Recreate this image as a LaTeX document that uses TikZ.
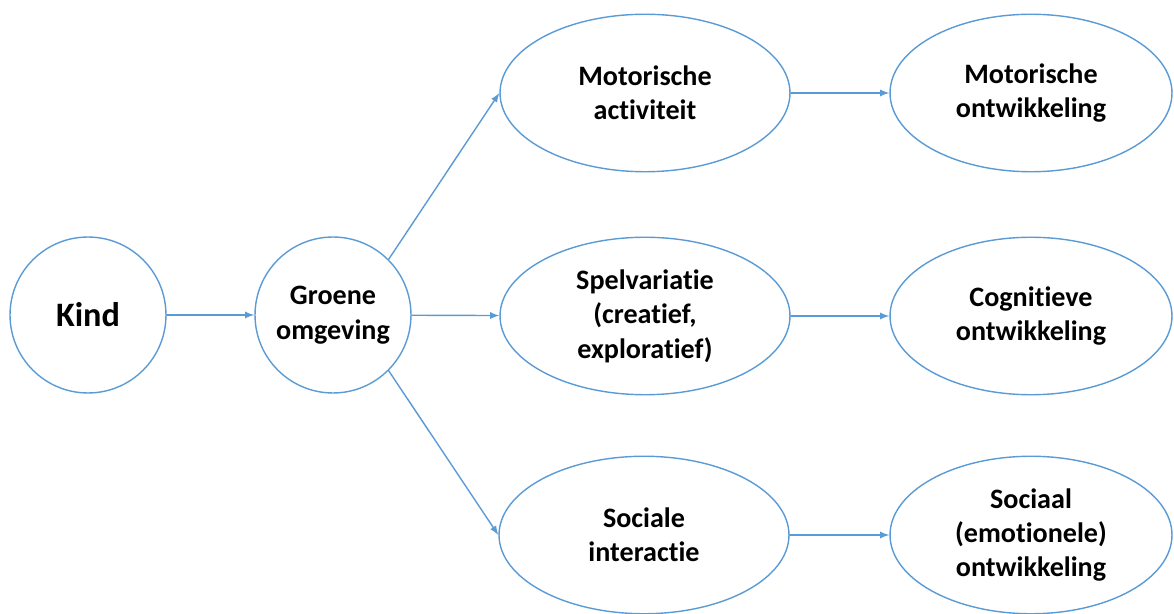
\documentclass[tikz,border=0pt]{standalone}
\usepackage{fontspec}
\setmainfont[Ligatures=NoCommon]{Carlito}
\usepackage{tikz}
\usetikzlibrary{arrows}
\usetikzlibrary{shapes.geometric}
\definecolor{lijnblauw}{RGB}{91,155,213}

\tikzset{
  rondje/.style={circle, draw=lijnblauw, line width=0.8pt, minimum size=3.12cm, inner sep=0pt, align=center,
    font=\fontsize{16}{19.6}\selectfont\bfseries},
  ovaal/.style={ellipse, draw=lijnblauw, line width=0.8pt, minimum width=5.8cm, minimum height=3.15cm, inner sep=0pt, align=center,
    font=\fontsize{16}{19.6}\selectfont\bfseries},
  pijl/.style={->, draw=lijnblauw, line width=0.8pt}
}

\begin{document}
\begin{tikzpicture}[x=0.02cm, y=-0.02cm, line cap=round, line join=round, >=latex]
  \useasboundingbox (0, 0) rectangle (1174, 614);
  %--- Kind en omgeving
    \node[rondje, font=\fontsize{19.5}{23}\selectfont\bfseries] (kind) at (88, 315) {Kind};
    \node[rondje] (groen) at (333, 315) {Groene\\omgeving};
  %--- Middelste kolom
    \node[ovaal] (motact) at (645, 93) {Motorische\\activiteit};
    \node[ovaal] (spel) at (645, 316) {Spelvariatie\\(creatief,\\exploratief)};
    \node[ovaal] (soc) at (644, 535) {Sociale\\interactie};
  %--- Ontwikkeling
    \node[ovaal, minimum width=5.64cm] (motontw) at (1031, 93) {Motorische\\ontwikkeling};
    \node[ovaal, minimum width=5.64cm] (cogontw) at (1031, 316) {Cognitieve\\ontwikkeling};
    \node[ovaal, minimum width=5.64cm] (socontw) at (1031, 535) {Sociaal\\(emotionele)\\ontwikkeling};
  %--- Pijlen
    \draw[pijl] (kind) -- (groen);
    \draw[pijl] (groen.north east) -- (motact.west);
    \draw[pijl] (groen) -- (spel);
    \draw[pijl] (groen.south east) -- (soc.west);
    \draw[pijl] (motact) -- (motontw);
    \draw[pijl] (spel) -- (cogontw);
    \draw[pijl] (soc) -- (socontw);
\end{tikzpicture}
\end{document}
